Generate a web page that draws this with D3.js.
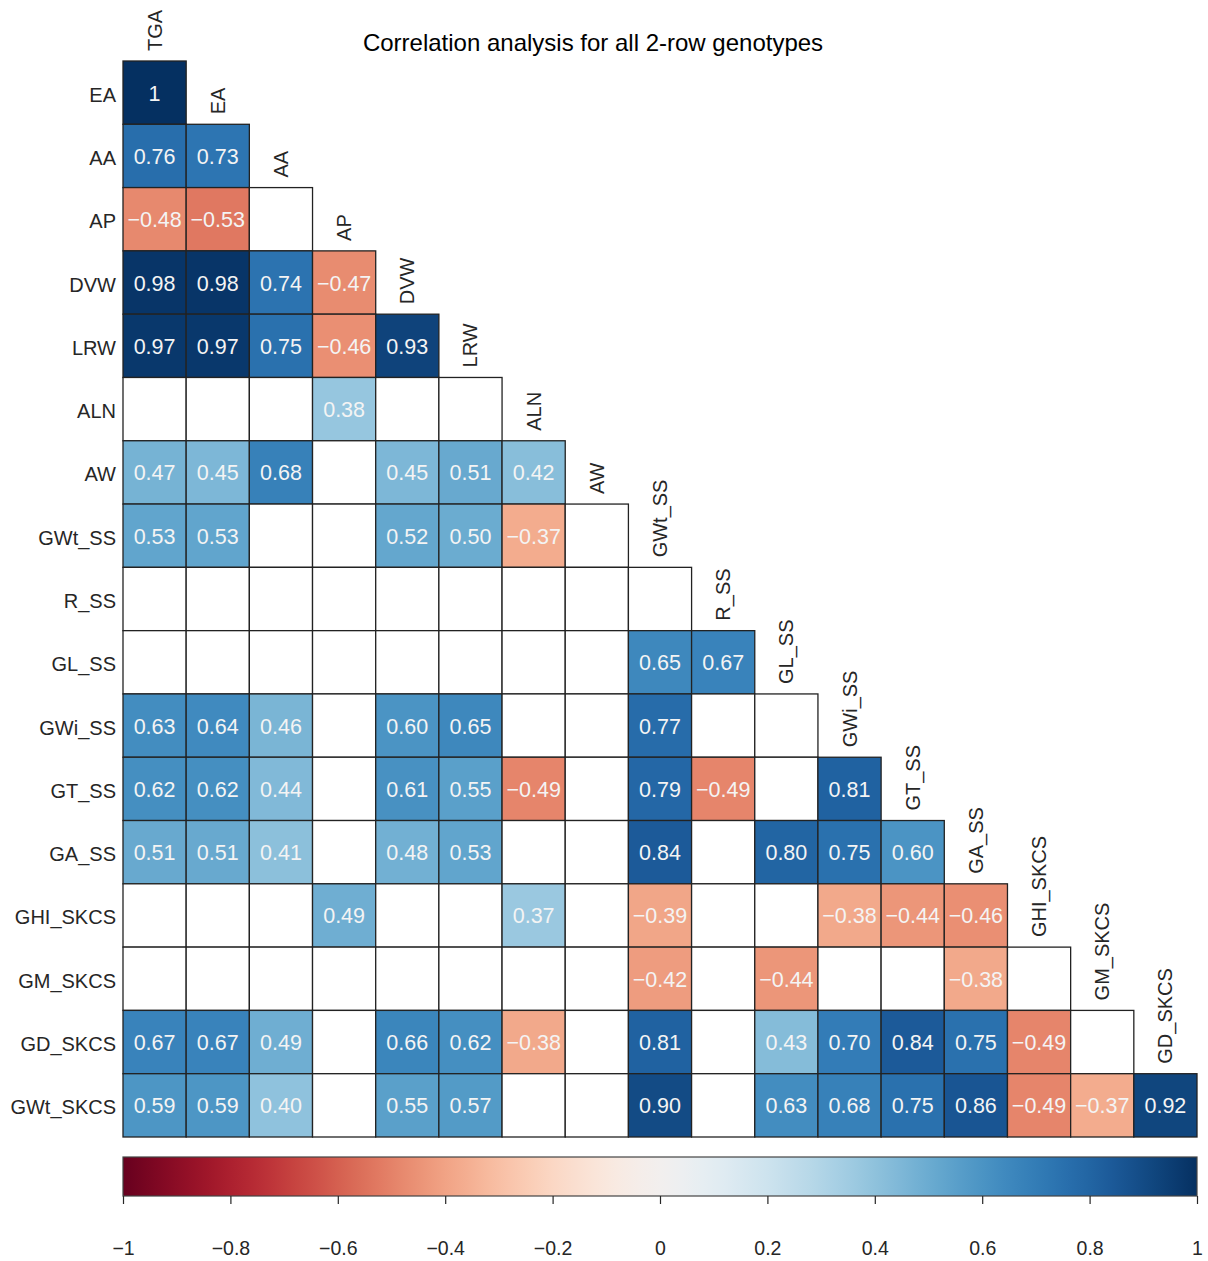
<!DOCTYPE html>
<html>
<head>
<meta charset="utf-8">
<script src="https://cdn.jsdelivr.net/npm/d3@7"></script>
<style>
  html, body { margin: 0; padding: 0; background: #fff; }
  svg { display: block; font-family: "Liberation Sans", Arial, sans-serif; }
</style>
</head>
<body>
<svg class="main-canvas" width="1208" height="1261"></svg>
<script>
"use strict";

// Column variables (top labels) and row variables (left labels)
const colNames = ['TGA', 'EA', 'AA', 'AP', 'DVW', 'LRW', 'ALN', 'AW', 'GWt_SS', 'R_SS',
                  'GL_SS', 'GWi_SS', 'GT_SS', 'GA_SS', 'GHI_SKCS', 'GM_SKCS', 'GD_SKCS'];
const rowNames = ['EA', 'AA', 'AP', 'DVW', 'LRW', 'ALN', 'AW', 'GWt_SS', 'R_SS', 'GL_SS',
                  'GWi_SS', 'GT_SS', 'GA_SS', 'GHI_SKCS', 'GM_SKCS', 'GD_SKCS', 'GWt_SKCS'];

// Lower triangle, one array per row; null = not significant (blank cell)
const corrRows = [
  [1],
  [0.76, 0.73],
  [-0.48, -0.53, null],
  [0.98, 0.98, 0.74, -0.47],
  [0.97, 0.97, 0.75, -0.46, 0.93],
  [null, null, null, 0.38, null, null],
  [0.47, 0.45, 0.68, null, 0.45, 0.51, 0.42],
  [0.53, 0.53, null, null, 0.52, 0.50, -0.37, null],
  [null, null, null, null, null, null, null, null, null],
  [null, null, null, null, null, null, null, null, 0.65, 0.67],
  [0.63, 0.64, 0.46, null, 0.60, 0.65, null, null, 0.77, null, null],
  [0.62, 0.62, 0.44, null, 0.61, 0.55, -0.49, null, 0.79, -0.49, null, 0.81],
  [0.51, 0.51, 0.41, null, 0.48, 0.53, null, null, 0.84, null, 0.80, 0.75, 0.60],
  [null, null, null, 0.49, null, null, 0.37, null, -0.39, null, null, -0.38, -0.44, -0.46],
  [null, null, null, null, null, null, null, null, -0.42, null, -0.44, null, null, -0.38, null],
  [0.67, 0.67, 0.49, null, 0.66, 0.62, -0.38, null, 0.81, null, 0.43, 0.70, 0.84, 0.75, -0.49, null],
  [0.59, 0.59, 0.40, null, 0.55, 0.57, null, null, 0.90, null, 0.63, 0.68, 0.75, 0.86, -0.49, -0.37, 0.92]
];

const colorbarTicks = [-1, -0.8, -0.6, -0.4, -0.2, 0, 0.2, 0.4, 0.6, 0.8, 1];

const title = 'Correlation analysis for all 2-row genotypes';

const textColor = '#262626';
let svg = d3.select('.main-canvas');

const x = d3.scaleBand().domain(colNames).range([123, 1197]);
const y = d3.scaleBand().domain(rowNames).range([61, 1137]);
const color = d3.scaleSequential(d3.interpolateRdBu).domain([-1, 1]);
const fmt = v => (v === 1 ? '1' : d3.format('.2f')(v));

// Flatten rows into cells
let cells = [];
corrRows.forEach((row, i) => {
  row.forEach((v, j) => {
    cells.push({ row: rowNames[i], col: colNames[j], value: v });
  });
});

let cellG = svg.append('g')
               .selectAll('g')
               .data(cells)
               .enter()
               .append('g')
               .attr('transform', d => `translate(${x(d.col)}, ${y(d.row)})`);

cellG.append('rect')
     .attr('width', x.bandwidth())
     .attr('height', y.bandwidth())
     .attr('fill', d => (d.value === null ? '#fff' : color(d.value)))
     .attr('stroke', '#222')
     .attr('stroke-width', 1.3);

cellG.filter(d => d.value !== null)
     .append('text')
     .text(d => fmt(d.value))
     .attr('x', x.bandwidth() / 2)
     .attr('y', y.bandwidth() / 2 + 1)
     .attr('text-anchor', 'middle')
     .attr('dominant-baseline', 'central')
     .attr('font-size', 21.5)
     .attr('fill', '#f4f4f4');

// Row labels
svg.append('g')
   .selectAll('text')
   .data(rowNames)
   .enter()
   .append('text')
   .text(d => d)
   .attr('x', 116)
   .attr('y', d => y(d) + y.bandwidth() / 2 + 2)
   .attr('text-anchor', 'end')
   .attr('dominant-baseline', 'central')
   .attr('font-size', 20)
   .attr('fill', textColor);

// Column labels, sitting just above the diagonal cell of each column
svg.append('g')
   .selectAll('text')
   .data(colNames)
   .enter()
   .append('text')
   .text(d => d)
   .attr('transform', (d, i) => `translate(${x(d) + x.bandwidth() / 2}, ${y(rowNames[i]) - 10}) rotate(-90)`)
   .attr('text-anchor', 'start')
   .attr('dominant-baseline', 'central')
   .attr('font-size', 20)
   .attr('fill', textColor);

// Title
svg.append('text')
   .text(title)
   .attr('x', 593)
   .attr('y', 51)
   .attr('text-anchor', 'middle')
   .attr('font-size', 24)
   .attr('fill', '#000');

// Colorbar
const cb = d3.scaleLinear().domain([-1, 1]).range([123, 1197]);
const cbTop = 1157, cbHeight = 39;

let grad = svg.append('defs')
              .append('linearGradient')
              .attr('id', 'cbgrad');
grad.selectAll('stop')
    .data(d3.range(0, 1.0001, 0.02))
    .enter()
    .append('stop')
    .attr('offset', t => `${t * 100}%`)
    .attr('stop-color', t => d3.interpolateRdBu(t));

svg.append('rect')
   .attr('x', cb(-1))
   .attr('y', cbTop)
   .attr('width', cb(1) - cb(-1))
   .attr('height', cbHeight)
   .attr('fill', 'url(#cbgrad)')
   .attr('stroke', '#444')
   .attr('stroke-width', 1.2);

let axis = svg.append('g')
              .attr('transform', `translate(0, ${cbTop + cbHeight})`)
              .call(d3.axisBottom(cb)
                      .tickValues(colorbarTicks)
                      .tickFormat(d3.format('~g'))
                      .tickSize(8)
                      .tickPadding(37));
axis.select('.domain').remove();
axis.selectAll('line').attr('stroke', textColor).attr('stroke-width', 1.2);
axis.selectAll('text')
    .attr('font-size', 19.5)
    .attr('font-family', '"Liberation Sans", Arial, sans-serif')
    .attr('fill', textColor);
</script>
</body>
</html>
